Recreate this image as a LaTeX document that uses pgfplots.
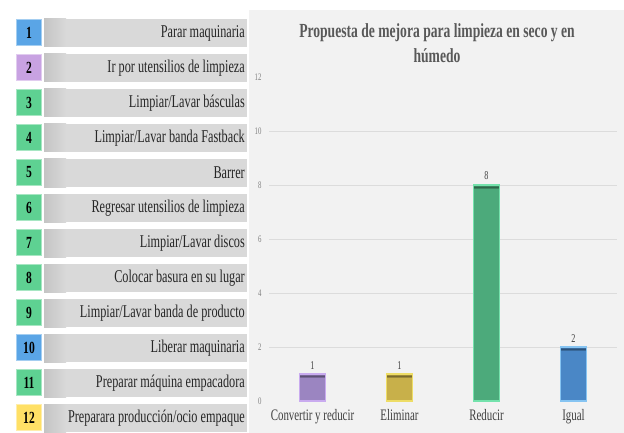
\documentclass[border=0pt]{standalone}
\usepackage{fontspec}
\setmainfont{Liberation Serif}[FakeStretch=0.68]
\usepackage{pgfplots}
\pgfplotsset{compat=1.18}
\definecolor{panel}{HTML}{F2F2F2}
\definecolor{rowgray}{HTML}{D9D9D9}
\definecolor{rowdark}{HTML}{C4C4C4}
\definecolor{bxblue}{HTML}{5AA5E6}
\definecolor{bxpurple}{HTML}{C8A2E2}
\definecolor{bxgreen}{HTML}{5ED192}
\definecolor{bxyellow}{HTML}{FFE066}
\definecolor{gridgray}{HTML}{DCDCDC}
\definecolor{labelgray}{HTML}{404040}
\definecolor{titlegray}{HTML}{595959}
\definecolor{barpurple}{HTML}{9B85C1}
\definecolor{edgepurple}{HTML}{C9ABEF}
\definecolor{baryellow}{HTML}{C8B04A}
\definecolor{edgeyellow}{HTML}{EEDD66}
\definecolor{bargreen}{HTML}{4CAA7B}
\definecolor{edgegreen}{HTML}{74E2AC}
\definecolor{barblue}{HTML}{4A87C6}
\definecolor{edgeblue}{HTML}{86C4F2}
\newcommand\row[3]{%
  \pgfmathsetmacro{\rt}{-19-35*(#1-1)}
  \fill[rowgray] (44pt,\rt pt) rectangle (247pt,\rt pt-28pt);
  \shade[left color=rowdark,right color=rowgray] (44pt,\rt pt) rectangle (66pt,\rt pt-28pt);
  \fill[#3] (16pt,\rt pt) rectangle (42pt,\rt pt-27pt);
  \draw[#3!55!white, line width=1.2pt] (16.6pt,\rt pt-0.6pt) rectangle (41.4pt,\rt pt-26.4pt);
  \node[font=\bfseries\fontsize{17}{17}\selectfont, inner sep=0pt] at (29pt,\rt pt-13.5pt) {#1};
  \node[anchor=east, font=\fontsize{18}{18}\selectfont, inner sep=0pt, text=black!85] at (245pt,\rt pt-14pt) {#2};
}
\tikzset{bevel/.style={postaction={path picture={\fill[black,opacity=0.22] ([yshift=1pt]path picture bounding box.north west) rectangle ([yshift=-3pt]path picture bounding box.north east);}}}}
\begin{document}
\begin{tikzpicture}
\path[use as bounding box] (0pt,0pt) rectangle (624pt,-433pt);
\fill[panel] (249pt,-10pt) rectangle (624pt,-433pt);
\row{1}{Parar  maquinaria}{bxblue}
\row{2}{Ir por utensilios de limpieza}{bxpurple}
\row{3}{Limpiar/Lavar básculas}{bxgreen}
\row{4}{Limpiar/Lavar banda Fastback}{bxgreen}
\row{5}{Barrer}{bxgreen}
\row{6}{Regresar utensilios de limpieza}{bxgreen}
\row{7}{Limpiar/Lavar discos}{bxgreen}
\row{8}{Colocar basura en su lugar}{bxgreen}
\row{9}{Limpiar/Lavar banda de producto}{bxgreen}
\row{10}{Liberar maquinaria}{bxblue}
\row{11}{Preparar máquina empacadora}{bxgreen}
\row{12}{Preparara producción/ocio empaque}{bxyellow}
\begin{axis}[
  at={(269pt,-401pt)}, anchor=south west,
  scale only axis, width=348pt, height=324pt,
  xmin=-0.5, xmax=3.5, ymin=0, ymax=12,
  axis line style={draw=none}, tick style={draw=none},
  ytick={2,4,6,8,10}, extra y ticks={0,12},
  extra y tick style={grid=none},
  ymajorgrids, grid style={color=gridgray, line width=0.8pt},
  xtick={0,1,2,3},
  xticklabels={Convertir y reducir, Eliminar, Reducir, Igual},
  xticklabel style={font=\fontsize{16}{16}\selectfont, text=labelgray, yshift=-1pt},
  yticklabel style={font=\fontsize{10}{10}\selectfont, text=gray, xshift=-4pt},
  /pgf/number format/assume math mode=true,
  ybar, bar width=26pt, bar shift=0pt,
  nodes near coords,
  nodes near coords style={font=\fontsize{12}{12}\selectfont, text=labelgray, yshift=1pt},
  clip=false,
]
\addplot[fill=barpurple, draw=edgepurple, line width=1.2pt, bevel] coordinates {(0,1)};
\addplot[fill=baryellow, draw=edgeyellow, line width=1.2pt, bevel] coordinates {(1,1)};
\addplot[fill=bargreen, draw=edgegreen, line width=1.2pt, bevel] coordinates {(2,8)};
\addplot[fill=barblue, draw=edgeblue, line width=1.2pt, bevel] coordinates {(3,2)};
\end{axis}
\node[align=center, font=\bfseries\fontsize{20}{25}\selectfont, text=titlegray] at (437pt,-43pt) {Propuesta de mejora para limpieza en seco y en\\húmedo};
\end{tikzpicture}
\end{document}
